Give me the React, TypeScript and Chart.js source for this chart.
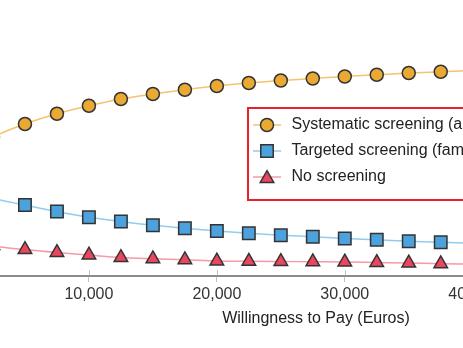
import React, { useEffect, useRef } from "react";
import { Chart, registerables } from "chart.js";

Chart.register(...registerables);

const wtp = [0, 2500, 5000, 7500, 10000, 12500, 15000, 17500, 20000, 22500, 25000, 27500, 30000, 32500, 35000, 37500, 40000];
const systematic = [0.46, 0.554, 0.608, 0.649, 0.681, 0.708, 0.728, 0.745, 0.760, 0.772, 0.782, 0.790, 0.798, 0.805, 0.812, 0.817, 0.822];
const targeted = [0.37, 0.312, 0.284, 0.258, 0.235, 0.218, 0.203, 0.191, 0.180, 0.171, 0.163, 0.157, 0.150, 0.145, 0.139, 0.135, 0.131];
const noScreening = [0.17, 0.122, 0.106, 0.094, 0.084, 0.074, 0.069, 0.065, 0.060, 0.059, 0.058, 0.057, 0.056, 0.054, 0.052, 0.049, 0.048];
const xTicks = [0, 10000, 20000, 30000, 40000, 50000];
const seriesLabels = [
  "Systematic screening (all women)",
  "Targeted screening (family history)",
  "No screening",
];
const xTitle = "Willingness to Pay (Euros)";

const FONT = "'Liberation Sans', Arial, Helvetica, sans-serif";

const styles = [
  { line: "#F3C46E", fill: "#EAA933", shape: "circle", r: 6.5 },
  { line: "#93CBEE", fill: "#4CA2DC", shape: "rect", r: 8.8 },
  { line: "#F59AA8", fill: "#E8475F", shape: "triangle", r: 7.8 },
];

function drawMarker(ctx: CanvasRenderingContext2D, shape: string, x: number, y: number, fill: string, r: number) {
  ctx.save();
  ctx.beginPath();
  if (shape === "circle") {
    ctx.arc(x, y, r, 0, Math.PI * 2);
  } else if (shape === "rect") {
    const s = r * Math.SQRT1_2;
    ctx.rect(x - s, y - s, 2 * s, 2 * s);
  } else {
    ctx.moveTo(x, y - r);
    ctx.lineTo(x + r * Math.sin((2 * Math.PI) / 3), y - r * Math.cos((2 * Math.PI) / 3));
    ctx.lineTo(x + r * Math.sin((4 * Math.PI) / 3), y - r * Math.cos((4 * Math.PI) / 3));
    ctx.closePath();
  }
  ctx.fillStyle = fill;
  ctx.fill();
  ctx.lineWidth = 1.5;
  ctx.strokeStyle = "#333333";
  ctx.stroke();
  ctx.restore();
}

const legendPlugin = {
  id: "insideLegend",
  afterDraw(chart: any) {
    const ctx = chart.ctx as CanvasRenderingContext2D;
    const area = chart.chartArea;
    const left = area.left + 287;
    const top = area.top + 82;
    const w = 420;
    const h = 92;
    ctx.save();
    ctx.fillStyle = "#ffffff";
    ctx.fillRect(left, top, w, h);
    ctx.lineWidth = 2;
    ctx.strokeStyle = "#E8202A";
    ctx.strokeRect(left, top, w, h);
    const rows = [17, 43, 69];
    seriesLabels.forEach((label, i) => {
      const y = top + rows[i];
      const st = styles[i];
      ctx.beginPath();
      ctx.moveTo(left + 5, y);
      ctx.lineTo(left + 33, y);
      ctx.lineWidth = 1.5;
      ctx.strokeStyle = st.line;
      ctx.stroke();
      drawMarker(ctx, st.shape, left + 19, y + (st.shape === "triangle" ? 1.5 : 0), st.fill, st.r);
      ctx.fillStyle = "#222222";
      ctx.font = `16px ${FONT}`;
      ctx.textBaseline = "middle";
      ctx.textAlign = "left";
      ctx.fillText(label, left + 43.5, y);
    });
    ctx.restore();
  },
};

const tickCrossPlugin = {
  id: "tickCross",
  afterDraw(chart: any) {
    const ctx = chart.ctx as CanvasRenderingContext2D;
    const xs = chart.scales.x;
    const bottom = chart.chartArea.bottom;
    ctx.save();
    ctx.strokeStyle = "#c4c4c4";
    ctx.lineWidth = 1;
    xs.ticks.forEach((t: any) => {
      const px = Math.round(xs.getPixelForValue(t.value)) + 0.5;
      ctx.beginPath();
      ctx.moveTo(px, bottom - 6);
      ctx.lineTo(px, bottom - 1);
      ctx.stroke();
    });
    ctx.restore();
  },
};

export default function App() {
  const ref = useRef<HTMLCanvasElement | null>(null);
  useEffect(() => {
    if (!ref.current) return;
    Chart.defaults.font.family = FONT;
    const mk = (vals: number[], i: number) => ({
      label: seriesLabels[i],
      data: wtp.map((x, k) => ({ x, y: vals[k] })),
      borderColor: styles[i].line,
      backgroundColor: styles[i].fill,
      pointBackgroundColor: styles[i].fill,
      pointBorderColor: "#333333",
      pointBorderWidth: 1.5,
      pointStyle: styles[i].shape,
      pointRadius: styles[i].r,
      borderWidth: 1.5,
      cubicInterpolationMode: "monotone" as const,
      order: 3 - i,
    });
    const chart = new Chart(ref.current, {
      type: "line",
      data: {
        datasets: [mk(systematic, 0), mk(targeted, 1), mk(noScreening, 2)],
      },
      options: {
        animation: false,
        responsive: false,
        maintainAspectRatio: false,
        layout: { padding: { left: 61, right: 129, top: 26, bottom: 13.6 } },
        plugins: { legend: { display: false }, tooltip: { enabled: false } },
        scales: {
          x: {
            type: "linear",
            min: 0,
            max: 55500,
            afterBuildTicks: (scale: any) => {
              scale.ticks = xTicks.map((v) => ({ value: v }));
            },
            border: { display: true, color: "#8c8c8c", width: 2 },
            grid: { display: true, drawOnChartArea: false, drawTicks: true, tickLength: 6, color: "#c4c4c4" },
            ticks: {
              padding: 3,
              color: "#333333",
              font: { size: 16, family: FONT },
              callback: (v: any) => Number(v).toLocaleString("en-US"),
            },
            title: {
              display: true,
              text: xTitle,
              color: "#222222",
              font: { size: 16, family: FONT },
              padding: { top: 2, bottom: 6 },
            },
          },
          y: { display: false, min: 0, max: 1 },
        },
      },
      plugins: [legendPlugin, tickCrossPlugin],
    });
    return () => chart.destroy();
  }, []);
  return (
    <div style={{ position: "fixed", left: 0, top: 0, width: 463, height: 348, overflow: "hidden", background: "#fff" }}>
      <div style={{ position: "absolute", left: -100, top: 0, width: 900, height: 348 }}>
        <canvas ref={ref} width={900} height={348} style={{ display: "block", width: 900, height: 348 }} />
      </div>
    </div>
  );
}
